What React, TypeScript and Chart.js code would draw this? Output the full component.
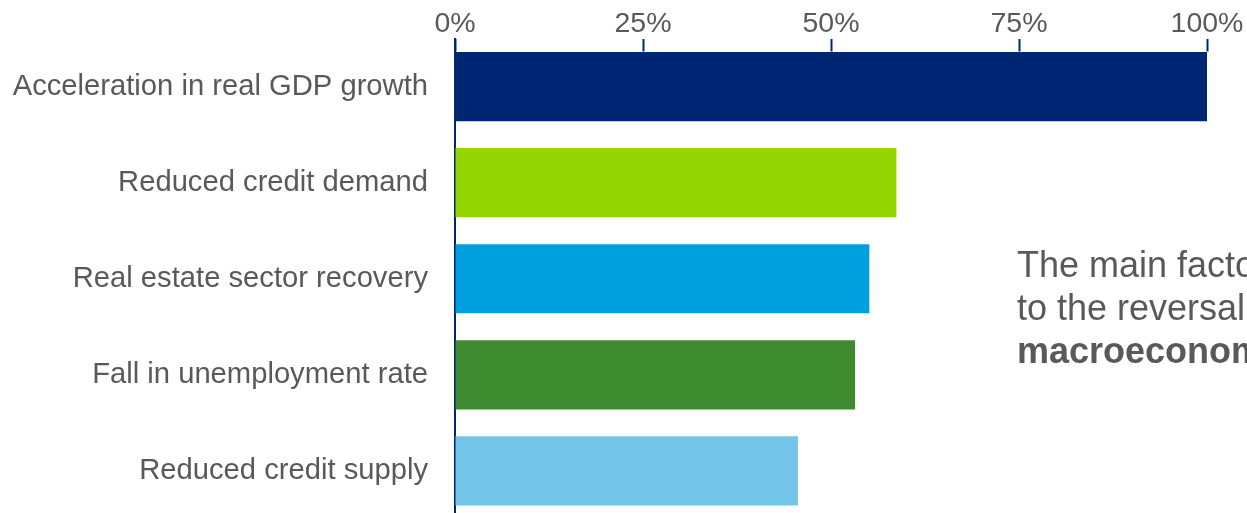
import React, { useEffect, useRef } from "react";
import { Chart, registerables } from "chart.js";

Chart.register(...registerables);

const categories = [
  "Acceleration in real GDP growth",
  "Reduced credit demand",
  "Real estate sector recovery",
  "Fall in unemployment rate",
  "Reduced credit supply",
];
const shares = [100, 58.7, 55.1, 53.2, 45.6];
const barColors = ["#002673", "#95D600", "#00A0DF", "#3E8A2F", "#72C5E6"];
const tickValues = [0, 25, 50, 75, 100];

const noteLine1 = "The main factors leading";
const noteLine2 = "to the reversal of the trend are";
const noteLine3 = "macroeconomic";

const FONT = "'Liberation Sans', Arial, Helvetica, sans-serif";
const TEXT = "#595959";
const AXIS = "#002673";

export default function App() {
  const ref = useRef<HTMLCanvasElement | null>(null);

  useEffect(() => {
    if (!ref.current) return;
    const chart = new Chart(ref.current, {
      type: "bar",
      data: {
        labels: categories,
        datasets: [
          {
            data: shares,
            backgroundColor: barColors,
            borderWidth: 0,
            categoryPercentage: 1,
            barPercentage: 0.72,
          },
        ],
      },
      options: {
        indexAxis: "y",
        responsive: false,
        animation: false,
        events: [],
        layout: { padding: { top: 0, right: 40, bottom: 0, left: 0 } },
        plugins: {
          legend: { display: false },
          tooltip: { enabled: false },
          title: { display: false },
        },
        scales: {
          x: {
            position: "top",
            min: 0,
            max: 100,
            afterBuildTicks: (scale: any) => {
              scale.ticks = tickValues.map((v) => ({ value: v }));
            },
            afterFit: (scale: any) => {
              scale.height = 38.5;
              scale.paddingLeft = 0;
              scale.paddingRight = 0;
            },
            border: { display: false },
            grid: {
              drawOnChartArea: false,
              drawTicks: true,
              tickLength: -13,
              tickColor: AXIS,
              tickWidth: 2,
            },
            ticks: {
              padding: 10,
              color: TEXT,
              font: { family: FONT, size: 28.5 },
              callback: (v: any) => `${v}%`,
              maxRotation: 0,
              autoSkip: false,
            },
          },
          y: {
            afterFit: (scale: any) => {
              scale.width = 455;
              scale.paddingTop = 0;
              scale.paddingBottom = 0;
            },
            border: { display: true, color: AXIS, width: 2 },
            grid: { drawOnChartArea: false, drawTicks: false },
            ticks: {
              padding: 27,
              color: TEXT,
              font: { family: FONT, size: 29.2 },
            },
          },
        },
      },
    });
    return () => chart.destroy();
  }, []);

  return (
    <div
      style={{
        position: "absolute",
        left: 0,
        top: 0,
        width: 1247,
        height: 513,
        overflow: "hidden",
        background: "#ffffff",
      }}
    >
      <canvas
        ref={ref}
        width={1247}
        height={519}
        style={{ display: "block", width: 1247, height: 519 }}
      />
      <div
        style={{
          position: "absolute",
          left: 1017,
          top: 242.6,
          fontFamily: FONT,
          fontSize: 36,
          lineHeight: "43.3px",
          color: TEXT,
          whiteSpace: "nowrap",
        }}
      >
        <div>{noteLine1}</div>
        <div>{noteLine2}</div>
        <div style={{ fontWeight: "bold" }}>{noteLine3}</div>
      </div>
    </div>
  );
}
